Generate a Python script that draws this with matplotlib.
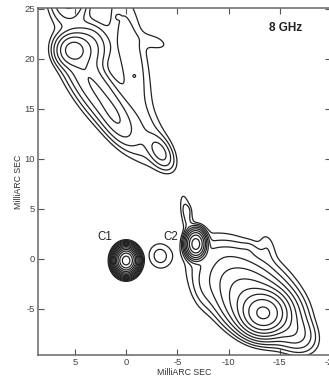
import matplotlib.pyplot as plt
import numpy as np

# source model: elliptical gaussian components (mas)
# core C1, knot, C2 and its northern extension
core_x = [0.0, -3.3, -6.8, -5.9, -6.0]
core_y = [-0.15, 0.3, 1.5, 4.4, 4.9]
core_sa = [0.50, 0.85, 0.60, 1.4, 0.35]
core_sb = [0.42, 0.75, 0.42, 0.35, 0.25]
core_pa = [90, 80, 90, 80, 80]
core_amp = [6000, 2.6, 380, 2.4, 1.0]

# south-western lobe around (-13.4, -5.4)
lobe_x = [-13.4, -13.2, -12.4, -11.8, -11.0, -16.2, -9.5, -13.8, -12.0, -7.5]
lobe_y = [-5.45, -5.1, -4.0, -3.0, -1.8, -7.2, 0.6, 1.3, 1.0, -3.0]
lobe_sa = [0.95, 1.5, 2.2, 2.8, 3.2, 1.3, 2.0, 1.0, 0.5, 1.3]
lobe_sb = [0.9, 1.1, 1.4, 1.7, 2.0, 0.9, 0.6, 0.5, 0.5, 0.7]
lobe_pa = [0, 20, 38, 40, 38, 40, 0, 80, 0, 80]
lobe_amp = [480, 110, 35, 10, 2.5, 12, 1.2, 1.2, 0.8, 1.5]

# north-eastern jet
jet_x = [5.2, 3.8, 5.6, 3.2, 1.0, -0.5, 2.5, -1.5, -3.3, -2.8, 0.8, -0.8]
jet_y = [20.9, 21.0, 26.5, 17.5, 14.0, 20.0, 16.0, 12.5, 10.7, 21.7, 24.2, 18.3]
jet_sa = [0.8, 1.1, 1.0, 2.5, 1.6, 4.5, 3.0, 2.5, 1.0, 1.0, 0.15, 0.15]
jet_sb = [0.8, 1.3, 1.6, 0.9, 0.7, 1.0, 1.1, 1.3, 0.55, 0.5, 0.15, 0.15]
jet_pa = [0, 0, 0, 55, 60, 80, 52, 50, 60, 20, 0, 0]
jet_amp = [40, 12, 12, 12, 10, 3.2, 5, 2.5, 10, 1.5, 1.5, 1.5]

levels = [1, 2, 4, 8, 16, 32, 64, 128, 256, 512, 1024, 2048, 4096]

x = np.arange(-21, 10, 0.04)
y = np.arange(-11, 28, 0.04)
X, Y = np.meshgrid(x, y)
Z = np.zeros_like(X)
for cx, cy, sa, sb, pa, a in zip(core_x + lobe_x + jet_x, core_y + lobe_y + jet_y,
                                 core_sa + lobe_sa + jet_sa, core_sb + lobe_sb + jet_sb,
                                 core_pa + lobe_pa + jet_pa, core_amp + lobe_amp + jet_amp):
    t = np.radians(pa)
    u = (X - cx) * np.cos(t) + (Y - cy) * np.sin(t)
    v = -(X - cx) * np.sin(t) + (Y - cy) * np.cos(t)
    Z += a * np.exp(-0.5 * ((u / sa) ** 2 + (v / sb) ** 2))

plt.rcParams['font.family'] = ['Liberation Sans', 'DejaVu Sans']
plt.rcParams['axes.unicode_minus'] = False
fig = plt.figure(figsize=(3.29, 3.78), dpi=100)
ax = fig.add_axes([38 / 329, 23 / 378, 293 / 329, 347 / 378])
ax.contour(X, Y, Z, levels=levels, colors='#222222', linewidths=0.9)

ax.set_xlim(8.6, -20.0)
ax.set_ylim(-9.6, 25.1)
ax.set_xticks([5, 0, -5, -10, -15, -20])
ax.set_yticks([-5, 0, 5, 10, 15, 20, 25])
ax.tick_params(direction='in', length=4, width=0.8, color='#555555',
               labelsize=6.8, labelcolor='#444444', top=True, right=True, pad=2)
for s in ax.spines.values():
    s.set_color('#666666')
    s.set_linewidth(1.1)

ax.set_xlabel('MilliARC SEC', fontsize=6.3, color='#333333', labelpad=1)
ax.set_ylabel('MilliARC SEC', fontsize=6.3, color='#333333', labelpad=1)

ax.text(2.1, 2.2, 'C1', fontsize=8.3, ha='center', va='center', color='#222222')
ax.text(-4.35, 2.2, 'C2', fontsize=8.3, ha='center', va='center', color='#222222')
ax.text(-15.6, 23.1, '8 GHz', fontsize=8.5, ha='center', va='center',
        color='#222222', fontweight='bold')

fig.savefig('out.png', dpi=100)
